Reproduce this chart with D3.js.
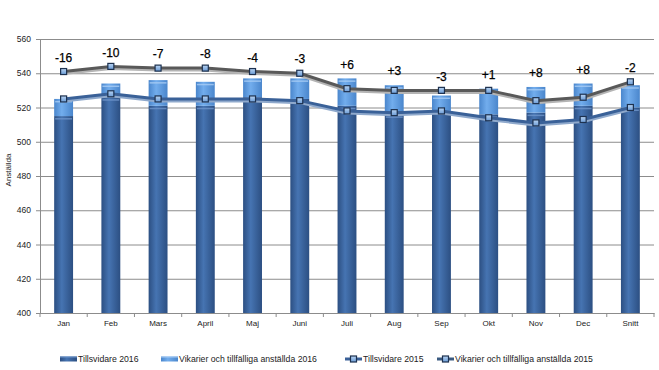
<!DOCTYPE html>
<html>
<head>
<meta charset="utf-8">
<script src="https://cdn.jsdelivr.net/npm/d3@7"></script>
<style>
  body { margin: 0; background: #fff; }
  text { font-family: "Liberation Sans", Arial, sans-serif; }
</style>
</head>
<body>
<div id="chart"></div>
<script>
const categories = ['Jan', 'Feb', 'Mars', 'April', 'Maj', 'Juni', 'Juli', 'Aug', 'Sep', 'Okt', 'Nov', 'Dec', 'Snitt'];
const tillsvidare2016 = [515, 526, 521, 521, 526, 525, 521, 516, 518, 516, 517, 521, 520];
const vikarier2016 = [10, 8, 15, 14, 11, 12, 16, 17, 9, 15, 15, 13, 13];
const tillsvidare2015 = [525, 528, 525, 525, 525, 524, 518, 517, 518, 514, 511, 513, 520];
const vikarier2015 = [16, 16, 18, 18, 16, 16, 13, 13, 12, 16, 13, 13, 15];
const yTicks = [400, 420, 440, 460, 480, 500, 520, 540, 560];
const seriesNames = ['Tillsvidare 2016', 'Vikarier och tillfälliga anställda 2016', 'Tillsvidare 2015', 'Vikarier och tillfälliga anställda 2015'];

const width = 659, height = 370;
const margin = {top: 39, right: 5, bottom: 57, left: 40};
const innerW = width - margin.left - margin.right;
const innerH = height - margin.top - margin.bottom;

const svg = d3.select('#chart').append('svg')
  .attr('width', width)
  .attr('height', height);

const defs = svg.append('defs');
function hGrad(id, edge, mid) {
  const g = defs.append('linearGradient').attr('id', id)
    .attr('x1', '0%').attr('x2', '100%').attr('y1', '0%').attr('y2', '0%');
  g.append('stop').attr('offset', '0%').attr('stop-color', edge);
  g.append('stop').attr('offset', '40%').attr('stop-color', mid);
  g.append('stop').attr('offset', '100%').attr('stop-color', edge);
}
hGrad('gDark', '#2c4f82', '#4674b2');
hGrad('gLight', '#4a86cc', '#72aded');
const mg = defs.append('linearGradient').attr('id', 'gMark')
  .attr('x1', '0%').attr('x2', '0%').attr('y1', '0%').attr('y2', '100%');
mg.append('stop').attr('offset', '0%').attr('stop-color', '#b9d4f2');
mg.append('stop').attr('offset', '100%').attr('stop-color', '#6a9bd6');

const g = svg.append('g')
  .attr('transform', `translate(${margin.left},${margin.top})`);

const x = d3.scaleBand().domain(categories).range([0, innerW]).padding(0);
const xBar = d3.scaleBand().domain(categories).range([0, innerW])
  .paddingInner(0.6).paddingOuter(0.3);
const y = d3.scaleLinear().domain([400, 560]).range([innerH, 0]);

// grid + y axis
g.append('g')
  .call(d3.axisLeft(y).tickValues(yTicks).tickSize(-innerW).tickPadding(9))
  .call(s => s.select('.domain').attr('stroke', '#8c8c8c'))
  .call(s => s.selectAll('.tick line').attr('stroke', '#8c8c8c'))
  .call(s => s.selectAll('.tick text').attr('font-size', 8.5).attr('fill', '#222'));
g.append('g')
  .call(d3.axisLeft(y).tickValues(yTicks).tickSize(4).tickFormat(''))
  .call(s => s.select('.domain').remove())
  .call(s => s.selectAll('.tick line').attr('stroke', '#8c8c8c'));

// x axis
const xAxis = g.append('g').attr('transform', `translate(0,${innerH})`);
xAxis.call(d3.axisBottom(x).tickSize(0).tickPadding(7).tickSizeOuter(0))
  .call(s => s.select('.domain').attr('stroke', '#8c8c8c'))
  .call(s => s.selectAll('.tick text').attr('font-size', 8).attr('fill', '#222'));
xAxis.selectAll('line.sep')
  .data(categories.concat(['end']))
  .join('line')
  .attr('class', 'sep')
  .attr('x1', (d, i) => i < categories.length ? x(d) : innerW)
  .attr('x2', (d, i) => i < categories.length ? x(d) : innerW)
  .attr('y1', 0).attr('y2', 4)
  .attr('stroke', '#8c8c8c');

// stacked bars
const rows = categories.map((c, i) => ({
  cat: c,
  t16: tillsvidare2016[i],
  v16: vikarier2016[i],
  t15: tillsvidare2015[i],
  v15: vikarier2015[i]
}));
const stacked = d3.stack().keys(['t16', 'v16'])(rows);
const fills = ['url(#gDark)', 'url(#gLight)'];
const highlight = ['#6f96cc', '#a9cdf5'];

stacked.forEach((layer, li) => {
  const lg = g.append('g');
  lg.selectAll('rect.bar')
    .data(layer)
    .join('rect')
    .attr('class', 'bar')
    .attr('x', d => xBar(d.data.cat))
    .attr('width', xBar.bandwidth())
    .attr('y', d => y(d[1]))
    .attr('height', d => y(Math.max(d[0], 400)) - y(d[1]))
    .attr('fill', fills[li]);
  lg.selectAll('rect.hl')
    .data(layer)
    .join('rect')
    .attr('class', 'hl')
    .attr('x', d => xBar(d.data.cat) + 1)
    .attr('width', xBar.bandwidth() - 2)
    .attr('y', d => y(d[1]) + 2)
    .attr('height', 1.5)
    .attr('fill', highlight[li])
    .attr('opacity', 0.8);
});

// lines (2015, stacked)
const cx = d => x(d.cat) + x.bandwidth() / 2;
const lineT = d3.line().x(cx).y(d => y(d.t15));
const lineV = d3.line().x(cx).y(d => y(d.t15 + d.v15));

function drawLine(gen, color, shadow, acc) {
  g.append('path').datum(rows)
    .attr('fill', 'none').attr('stroke', shadow).attr('stroke-width', 3)
    .attr('transform', 'translate(0,2)').attr('d', gen);
  g.append('path').datum(rows)
    .attr('fill', 'none').attr('stroke', color).attr('stroke-width', 3)
    .attr('d', gen);
  g.append('g').selectAll('rect')
    .data(rows)
    .join('rect')
    .attr('x', d => cx(d) - 3)
    .attr('y', d => y(acc(d)) - 3)
    .attr('width', 6).attr('height', 6)
    .attr('fill', 'url(#gMark)')
    .attr('stroke', '#1d314f').attr('stroke-width', 1.2);
}
drawLine(lineT, '#3a6198', '#8fa9cc', d => d.t15);
drawLine(lineV, '#595959', '#b4b4b4', d => d.t15 + d.v15);

// difference labels
g.append('g').selectAll('text')
  .data(rows)
  .join('text')
  .attr('x', cx)
  .attr('y', d => Math.min(y(d.t16 + d.v16), y(d.t15 + d.v15)) - 14)
  .attr('dy', '0.35em')
  .attr('text-anchor', 'middle')
  .attr('font-size', 12)
  .attr('fill', '#000')
  .attr('stroke', '#000')
  .attr('stroke-width', 0.25)
  .text(d => {
    const diff = (d.t16 + d.v16) - (d.t15 + d.v15);
    return diff > 0 ? '+' + diff : String(diff);
  });

// y title
svg.append('text')
  .attr('transform', `translate(11,${margin.top + innerH / 2 - 6}) rotate(-90)`)
  .attr('text-anchor', 'middle')
  .attr('font-size', 8)
  .attr('fill', '#222')
  .text('Anställda');

// legend
const legendX = [60, 161, 345, 437];
const lg = svg.append('g').attr('transform', 'translate(0,359)');
seriesNames.forEach((name, i) => {
  const item = lg.append('g').attr('transform', `translate(${legendX[i]},0)`);
  if (i < 2) {
    item.append('rect').attr('x', 0).attr('y', -2.5).attr('width', 17).attr('height', 5)
      .attr('fill', fills[i]);
    item.append('rect').attr('x', 0).attr('y', -2.5).attr('width', 17).attr('height', 1)
      .attr('fill', highlight[i]);
  } else {
    item.append('line').attr('x1', 0).attr('x2', 17).attr('y1', 0).attr('y2', 0)
      .attr('stroke', i === 2 ? '#3a6198' : '#3a5a80').attr('stroke-width', 3);
    item.append('rect').attr('x', 5.5).attr('y', -3).attr('width', 6).attr('height', 6)
      .attr('fill', 'url(#gMark)').attr('stroke', '#1d314f').attr('stroke-width', 1.2);
  }
  item.append('text')
    .attr('x', 18).attr('y', 0).attr('dy', '0.35em')
    .attr('font-size', 8.7).attr('fill', '#222')
    .text(name);
});
</script>
</body>
</html>
